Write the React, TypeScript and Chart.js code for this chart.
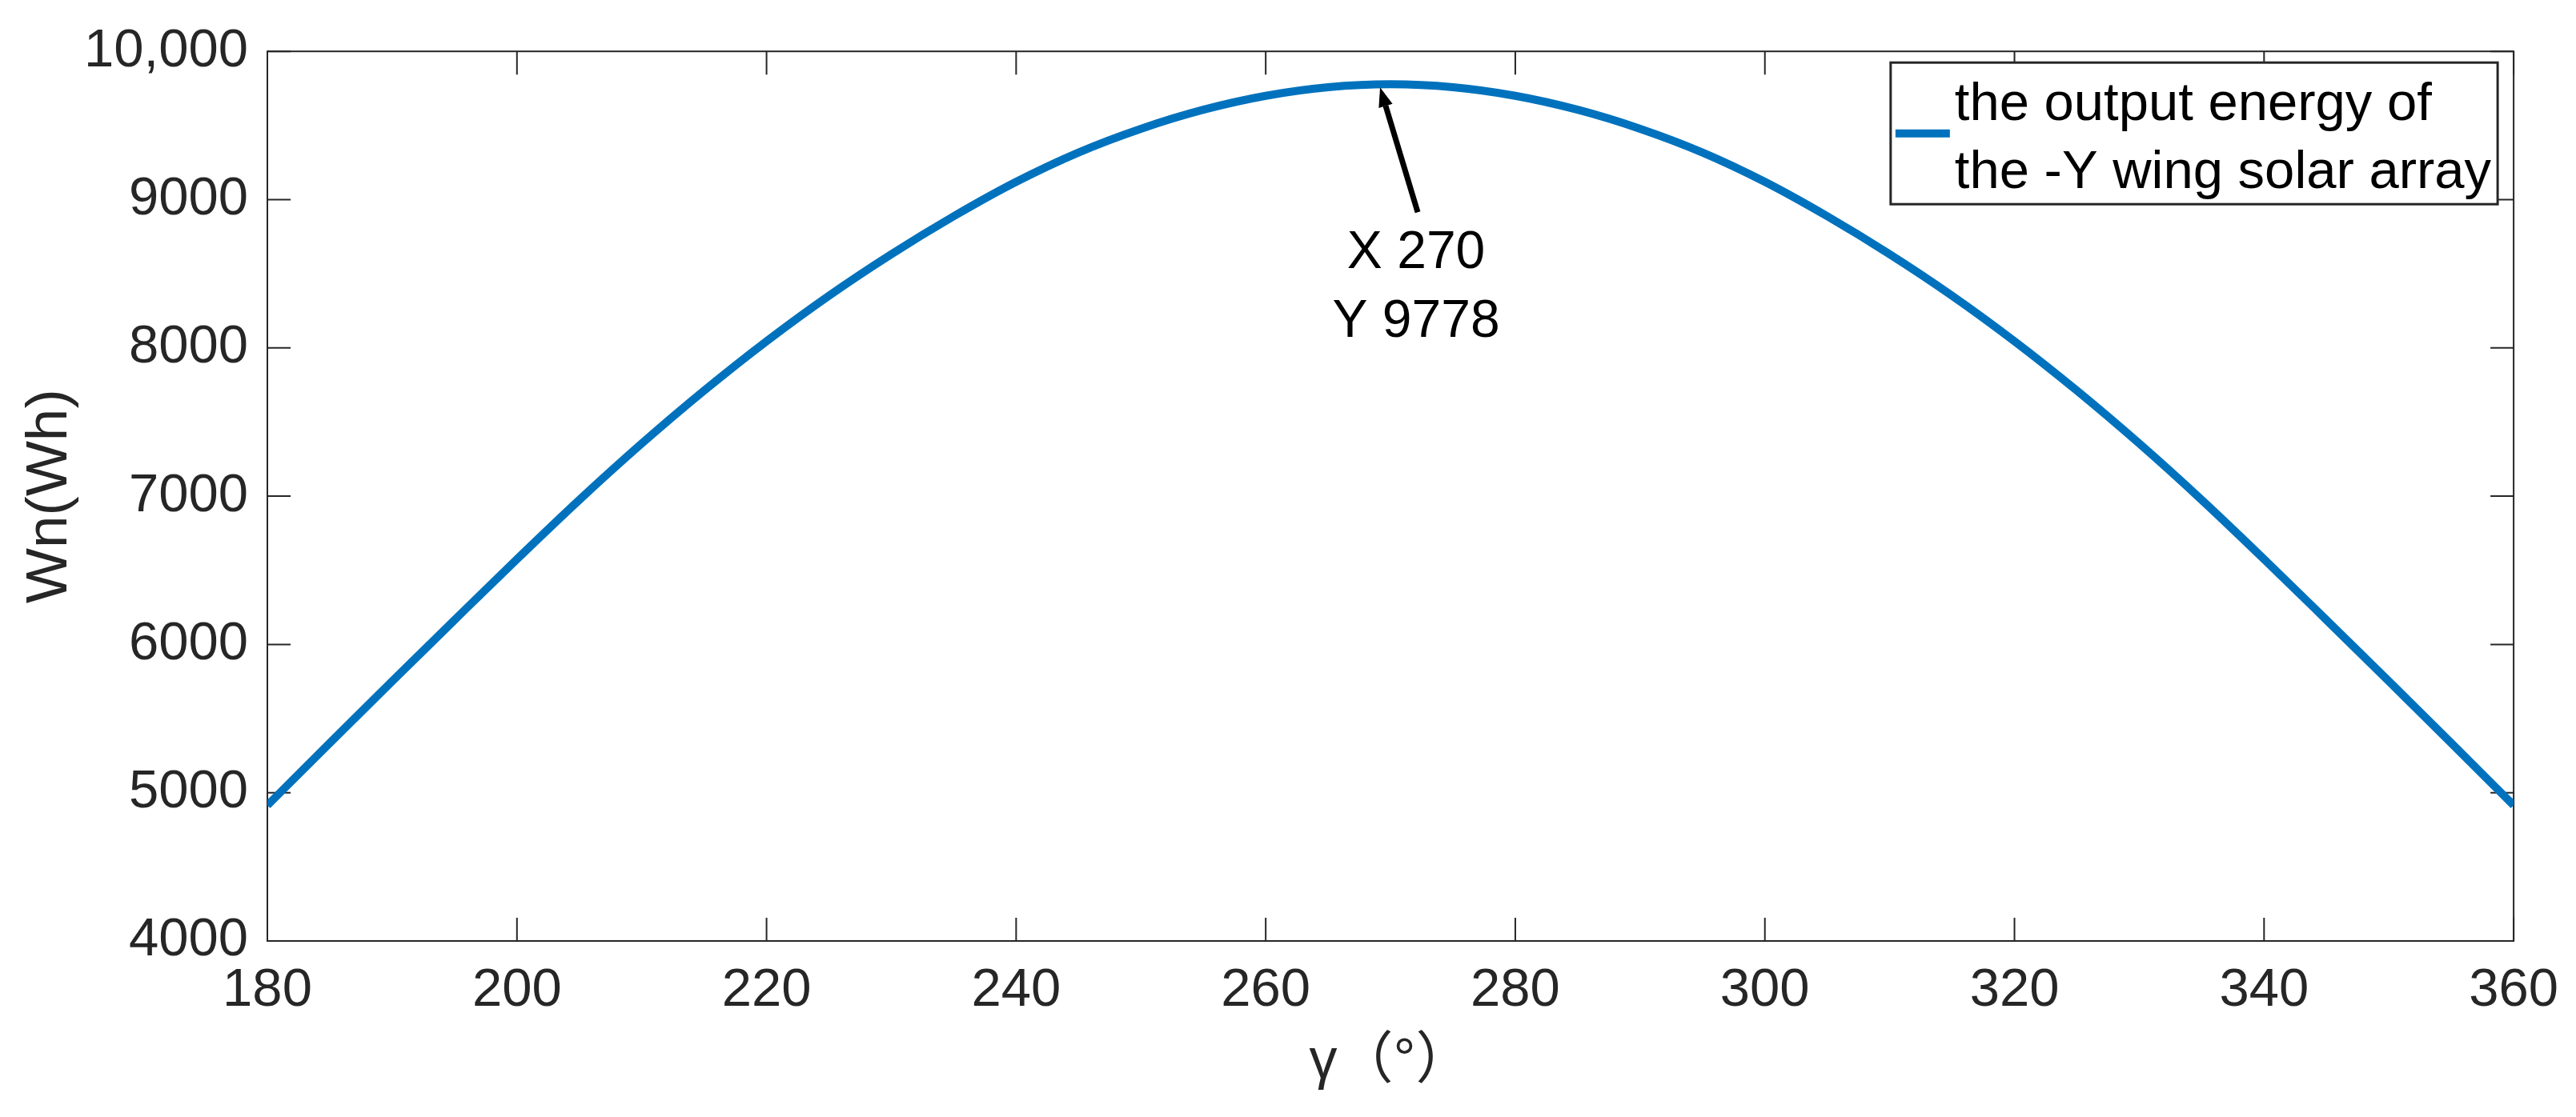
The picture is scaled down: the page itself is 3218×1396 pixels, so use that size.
import React, { useEffect, useRef } from "react";
import { Chart, registerables } from "chart.js";

Chart.register(...registerables);

// values, every 5 degrees
const gammaDeg = [
  180, 185, 190, 195, 200, 205, 210, 215, 220, 225, 230, 235, 240, 245, 250,
  255, 260, 265, 270, 275, 280, 285, 290, 295, 300, 305, 310, 315, 320, 325,
  330, 335, 340, 345, 350, 355, 360,
];
const energyWh = [
  4915, 5335, 5752, 6165, 6575, 6975, 7355, 7712, 8045, 8352, 8632, 8888, 9120,
  9318, 9478, 9606, 9700, 9758, 9778, 9758, 9700, 9606, 9478, 9318, 9120, 8888,
  8632, 8352, 8045, 7712, 7355, 6975, 6575, 6165, 5752, 5335, 4915,
];

const xTicks = [180, 200, 220, 240, 260, 280, 300, 320, 340, 360];
const yTicks = [4000, 5000, 6000, 7000, 8000, 9000, 10000];
const yTickLabels = ["4000", "5000", "6000", "7000", "8000", "9000", "10,000"];

const legendLines = ["the output energy of", "the -Y wing solar array"];
const peakX = 270;
const peakY = 9778;

const xTitle = "γ（°）";
const yTitle = "Wn(Wh)";

const FONT = '"Liberation Sans", Arial, Helvetica, "Noto Sans CJK SC", sans-serif';
const AXIS_COLOR = "#262626";
const LINE_COLOR = "#0072BD";
const TICK_LEN = 29;

// MATLAB-like box with inward ticks on all four sides
const axesBoxPlugin = {
  id: "axesBox",
  beforeDatasetsDraw(chart: Chart) {
    const { ctx, chartArea: a } = chart;
    const x = chart.scales.x;
    const y = chart.scales.y;
    ctx.save();
    ctx.strokeStyle = AXIS_COLOR;
    ctx.lineWidth = 2;
    ctx.strokeRect(a.left, a.top, a.right - a.left, a.bottom - a.top);
    ctx.beginPath();
    xTicks.forEach((v) => {
      const px = x.getPixelForValue(v);
      ctx.moveTo(px, a.bottom);
      ctx.lineTo(px, a.bottom - TICK_LEN);
      ctx.moveTo(px, a.top);
      ctx.lineTo(px, a.top + TICK_LEN);
    });
    yTicks.forEach((v) => {
      const py = y.getPixelForValue(v);
      ctx.moveTo(a.left, py);
      ctx.lineTo(a.left + TICK_LEN, py);
      ctx.moveTo(a.right, py);
      ctx.lineTo(a.right - TICK_LEN, py);
    });
    ctx.stroke();
    ctx.restore();
  },
};

// data tip arrow pointing at the peak
const peakNotePlugin = {
  id: "peakNote",
  afterDatasetsDraw(chart: Chart) {
    const { ctx } = chart;
    const px = chart.scales.x.getPixelForValue(peakX);
    const py = chart.scales.y.getPixelForValue(peakY);
    const tipX = px - 13;
    const tipY = py + 4;
    const tailX = px + 34;
    const tailY = py + 160;
    const ang = Math.atan2(tipY - tailY, tipX - tailX);
    const headLen = 24;
    const headHalf = 9;
    const bx = tipX - headLen * Math.cos(ang);
    const by = tipY - headLen * Math.sin(ang);

    ctx.save();
    ctx.strokeStyle = "#000";
    ctx.fillStyle = "#000";
    ctx.lineWidth = 7;
    ctx.beginPath();
    ctx.moveTo(tailX, tailY);
    ctx.lineTo(bx, by);
    ctx.stroke();
    ctx.beginPath();
    ctx.moveTo(tipX, tipY);
    ctx.lineTo(bx + headHalf * Math.sin(ang), by - headHalf * Math.cos(ang));
    ctx.lineTo(bx - headHalf * Math.sin(ang), by + headHalf * Math.cos(ang));
    ctx.closePath();
    ctx.fill();

    ctx.font = `66px ${FONT}`;
    ctx.textAlign = "center";
    ctx.textBaseline = "alphabetic";
    ctx.fillText(`X ${peakX}`, px + 32, py + 230);
    ctx.fillText(`Y ${peakY}`, px + 32, py + 316);
    ctx.restore();
  },
};

// boxed legend in the top right corner
const boxLegendPlugin = {
  id: "boxLegend",
  afterDraw(chart: Chart) {
    const { ctx, chartArea: a } = chart;
    ctx.save();
    ctx.font = `67px ${FONT}`;
    const textW = Math.max(...legendLines.map((t) => ctx.measureText(t).width));
    const boxW = 6 + 68 + 6 + textW + 8;
    const boxH = 177;
    const right = a.right - 20;
    const top = a.top + 14;
    const left = right - boxW;

    ctx.fillStyle = "#fff";
    ctx.fillRect(left, top, boxW, boxH);
    ctx.strokeStyle = AXIS_COLOR;
    ctx.lineWidth = 3;
    ctx.strokeRect(left, top, boxW, boxH);

    ctx.strokeStyle = LINE_COLOR;
    ctx.lineWidth = 10;
    ctx.beginPath();
    ctx.moveTo(left + 6, top + boxH / 2);
    ctx.lineTo(left + 74, top + boxH / 2);
    ctx.stroke();

    ctx.fillStyle = "#000";
    ctx.textAlign = "left";
    ctx.textBaseline = "alphabetic";
    ctx.fillText(legendLines[0], left + 80, top + 72);
    ctx.fillText(legendLines[1], left + 80, top + 157);
    ctx.restore();
  },
};

export default function App() {
  const canvasRef = useRef<HTMLCanvasElement>(null);

  useEffect(() => {
    document.body.style.margin = "0";
    document.body.style.overflow = "hidden";
    if (!canvasRef.current) return;

    const chart = new Chart(canvasRef.current, {
      type: "line",
      data: {
        datasets: [
          {
            label: legendLines.join(" "),
            data: gammaDeg.map((g, i) => ({ x: g, y: energyWh[i] })),
            borderColor: LINE_COLOR,
            borderWidth: 10,
            pointRadius: 0,
            cubicInterpolationMode: "monotone",
            fill: false,
          },
        ],
      },
      options: {
        animation: false,
        responsive: true,
        maintainAspectRatio: false,
        layout: { padding: { left: 0, top: 51, right: 76, bottom: 0 } },
        plugins: {
          legend: { display: false },
          tooltip: { enabled: false },
        },
        scales: {
          x: {
            type: "linear",
            min: 180,
            max: 360,
            afterBuildTicks: (s: any) => {
              s.ticks = xTicks.map((v) => ({ value: v }));
            },
            afterFit: (s: any) => {
              s.height = 220;
            },
            grid: { display: false, drawTicks: false },
            border: { display: false },
            ticks: {
              font: { family: FONT, size: 67 },
              color: AXIS_COLOR,
              padding: 22,
              maxRotation: 0,
              autoSkip: false,
            },
            title: {
              display: true,
              text: xTitle,
              font: { family: FONT, size: 70 },
              color: AXIS_COLOR,
              padding: { top: 0, bottom: 26 },
            },
          },
          y: {
            type: "linear",
            min: 4000,
            max: 10000,
            afterBuildTicks: (s: any) => {
              s.ticks = yTicks.map((v) => ({ value: v }));
            },
            afterFit: (s: any) => {
              s.width = 334;
            },
            grid: { display: false, drawTicks: false },
            border: { display: false },
            ticks: {
              font: { family: FONT, size: 67 },
              color: AXIS_COLOR,
              padding: 24,
              autoSkip: false,
              callback: (v: any) => {
                const i = yTicks.indexOf(Number(v));
                return i >= 0 ? yTickLabels[i] : "";
              },
            },
            title: {
              display: true,
              text: yTitle,
              font: { family: FONT, size: 73 },
              color: AXIS_COLOR,
              padding: { top: 19, bottom: 0 },
            },
          },
        },
      },
      plugins: [axesBoxPlugin, peakNotePlugin, boxLegendPlugin],
    });

    return () => {
      chart.destroy();
    };
  }, []);

  return (
    <div style={{ position: "relative", width: "3218px", height: "1396px", background: "#fff" }}>
      <canvas ref={canvasRef} />
    </div>
  );
}
